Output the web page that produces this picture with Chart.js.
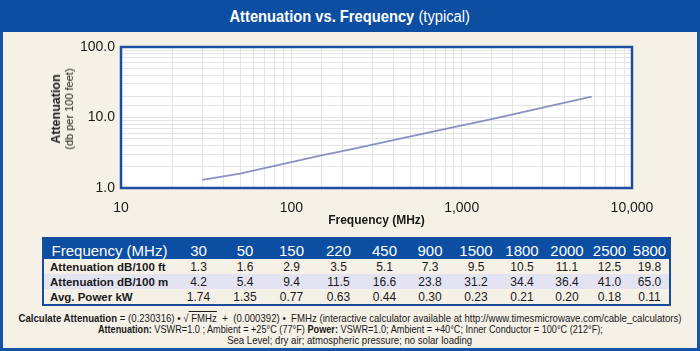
<!DOCTYPE html>
<html>
<head>
<meta charset="utf-8">
<script src="https://cdn.jsdelivr.net/npm/chart.js@4.4.1/dist/chart.umd.min.js"></script>
<style>
  body { margin: 0; width: 700px; height: 351px; overflow: hidden; background: #f5f1e6;
         font-family: "Liberation Sans", Arial, sans-serif; color: #1a1a1a; position: relative; }
  #frame { position: absolute; left: 0; top: 0; width: 700px; height: 351px; box-sizing: border-box;
           background: #f5f1e6; border: 3px solid #1652a5; border-top: none; }
  #titlebar { position: absolute; left: 0; top: 0; width: 700px; height: 32px; background: #0b4ea2;
              color: #fff; text-align: center; line-height: 33px; font-size: 16px; }
  #titlebar span { display: inline-block; transform: scaleX(0.92); }
  #chart { position: absolute; left: 0; top: 32px; }
  #ytitle { position: absolute; left: 63px; top: 109px; transform: translate(-50%, -50%) rotate(-90deg);
            white-space: nowrap; text-align: center; line-height: 13px; z-index: 2; }
  #ytitle .main { font-weight: bold; font-size: 12.5px; }
  #ytitle .sub { font-size: 11px; }
  #spec { position: absolute; left: 42px; top: 237px; width: 627px; border-collapse: collapse;
          border: 2px solid #1a4c9c; table-layout: fixed; }
  #spec th { background: #0b4ea2; color: #fff; font-weight: normal; font-size: 15px; height: 20px;
             padding: 0; line-height: 16px; vertical-align: bottom; text-align: center; }
  #spec td { font-size: 12px; height: 15px; padding: 0; line-height: 14px; text-align: center; }
  #spec td.lab { text-align: left; padding-left: 6px; font-weight: bold; font-size: 11.5px; }
  #spec tr.alt td { background: #e3e3f2; }
  #foot { position: absolute; left: -250px; top: 313px; width: 1200px; text-align: center; font-size: 11px;
          line-height: 11px; }
  #foot div { white-space: nowrap; }
  #foot span.ln { display: inline-block; transform-origin: center; }
  .ov { text-decoration: overline; }
</style>
</head>
<body>
<div id="frame"></div>
<div id="titlebar"><span><b>Attenuation vs. Frequency</b> (typical)</span></div>
<canvas id="chart" width="700" height="196"></canvas>
<div id="ytitle"><div class="main">Attenuation</div><div class="sub">(db per 100 feet)</div></div>
<table id="spec"></table>
<div id="foot">
  <div><span class="ln" data-w="663"><b>Calculate Attenuation</b> = (0.230316) &bull; &radic;<span class="ov">&nbsp;FMHz</span> &nbsp;+ &nbsp;(0.000392) &bull; &nbsp;FMHz (interactive calculator available at http://www.timesmicrowave.com/cable_calculators)</span></div>
  <div><span class="ln" data-w="505"><b>Attenuation:</b> VSWR=1.0 ; Ambient = +25°C (77°F) <b>Power:</b> VSWR=1.0; Ambient = +40°C; Inner Conductor = 100°C (212°F);</span></div>
  <div><span class="ln" data-w="245">Sea Level; dry air; atmospheric pressure; no solar loading</span></div>
</div>
<script>
//------Data------
const frequencies = [30, 50, 150, 220, 450, 900, 1500, 1800, 2000, 2500, 5800];
const attenFt = ['1.3', '1.6', '2.9', '3.5', '5.1', '7.3', '9.5', '10.5', '11.1', '12.5', '19.8'];
const attenM = ['4.2', '5.4', '9.4', '11.5', '16.6', '23.8', '31.2', '34.4', '36.4', '41.0', '65.0'];
const avgPower = ['1.74', '1.35', '0.77', '0.63', '0.44', '0.30', '0.23', '0.21', '0.20', '0.18', '0.11'];
const xTicks = [10, 100, 1000, 10000];
const yTicks = [1, 10, 100];
const colWidths = [132, 47, 46, 47, 47, 45, 46, 46, 46, 44, 41, 40];
//----------------

//--Table
const table = document.getElementById('spec');
let html = '<colgroup>' + colWidths.map(w => '<col style="width:' + w + 'px">').join('') + '</colgroup>';
html += '<tr><th>Frequency (MHz)</th>' + frequencies.map(f => '<th>' + f + '</th>').join('') + '</tr>';
const rows = [
  ['Attenuation dB/100 ft', attenFt, ''],
  ['Attenuation dB/100 m', attenM, 'alt'],
  ['Avg. Power kW', avgPower, '']
];
rows.forEach(([label, vals, cls]) => {
  html += '<tr class="' + cls + '"><td class="lab">' + label + '</td>' + vals.map(v => '<td>' + v + '</td>').join('') + '</tr>';
});
table.innerHTML = html;

//--Footer: squeeze lines to the narrow width of the original
document.querySelectorAll('#foot span.ln').forEach((el) => {
  const w = el.getBoundingClientRect().width;
  el.style.transform = 'scaleX(' + (parseFloat(el.dataset.w) / w) + ')';
});

//--Chart
const isDecade = (v) => Math.abs(Math.log10(v) - Math.round(Math.log10(v))) < 1e-9;

const plotFrame = {
  id: 'plotFrame',
  beforeDraw(chart) {
    const { ctx, chartArea: a } = chart;
    ctx.save();
    ctx.fillStyle = '#ffffff';
    ctx.fillRect(a.left, a.top, a.right - a.left, a.bottom - a.top);
    ctx.restore();
  },
  afterDraw(chart) {
    const { ctx, chartArea: a } = chart;
    ctx.save();
    ctx.strokeStyle = '#1c4f9f';
    ctx.lineWidth = 2.5;
    ctx.strokeRect(a.left, a.top, a.right - a.left, a.bottom - a.top);
    ctx.restore();
  }
};

const ctx = document.getElementById('chart').getContext('2d');
new Chart(ctx, {
  type: 'line',
  data: {
    datasets: [{
      data: frequencies.map((f, i) => ({ x: f, y: parseFloat(attenFt[i]) })),
      borderColor: '#8a90c2',
      borderWidth: 1.8,
      pointRadius: 0,
      fill: false,
      tension: 0
    }]
  },
  options: {
    responsive: false,
    animation: false,
    devicePixelRatio: 1,
    layout: { padding: { left: 0, right: 68, top: 15, bottom: 0 } },
    plugins: { legend: { display: false }, tooltip: { enabled: false } },
    scales: {
      x: {
        type: 'logarithmic',
        min: xTicks[0],
        max: xTicks[xTicks.length - 1],
        afterFit: (s) => { s.height = 40; },
        grid: { color: '#e4e4e4', drawTicks: false },
        border: { display: false },
        ticks: {
          autoSkip: false, maxRotation: 0, padding: 12,
          color: '#1a1a1a', font: { family: 'Liberation Sans', size: 14 },
          callback: (v) => isDecade(v) && xTicks.includes(Math.round(v)) ? Math.round(v).toLocaleString('en-US') : ''
        },
        title: {
          display: true, text: 'Frequency (MHz)', color: '#1a1a1a', padding: 0,
          font: { family: 'Liberation Sans', size: 12, weight: 'bold' }
        }
      },
      y: {
        type: 'logarithmic',
        min: yTicks[0],
        max: yTicks[yTicks.length - 1],
        afterFit: (s) => { s.width = 121; },
        grid: { color: '#e4e4e4', drawTicks: false },
        border: { display: false },
        ticks: {
          autoSkip: false, padding: 6,
          color: '#1a1a1a', font: { family: 'Liberation Sans', size: 14 },
          callback: (v) => isDecade(v) && yTicks.includes(Math.round(v)) ? Number(v).toFixed(1) : ''
        }
      }
    }
  },
  plugins: [plotFrame]
});
</script>
</body>
</html>
